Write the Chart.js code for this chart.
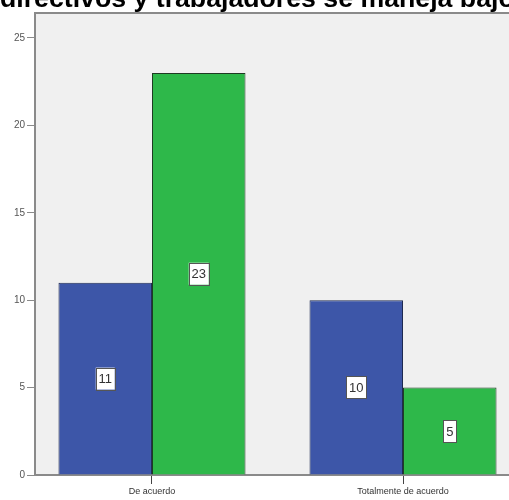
<!DOCTYPE html>
<html>
<head>
<meta charset="utf-8">
<script src="https://cdn.jsdelivr.net/npm/chart.js@4.4.1/dist/chart.umd.min.js"></script>
<style>
html,body{margin:0;padding:0;background:#fff;overflow:hidden;}
#wrap{position:absolute;left:0;top:0;width:530px;height:500px;}
</style>
</head>
<body>
<div id="wrap"><canvas id="c" width="530" height="500"></canvas></div>
<script>
const titleText = "directivos y trabajadores se maneja bajo";
const categories = ["De acuerdo", "Totalmente de acuerdo"];
const seriesA = [11, 10];
const seriesB = [23, 5];
const yTicks = [0, 5, 10, 15, 20, 25];
const colorA = "#3d56a8";
const colorB = "#2eb84a";

const bgPlugin = {
  id: "bg",
  beforeDraw(chart) {
    const {ctx, chartArea: a} = chart;
    ctx.save();
    ctx.fillStyle = "#f0f0f0";
    ctx.fillRect(a.left, a.top, a.right - a.left, a.bottom - a.top);
    ctx.strokeStyle = "#8a8a8a";
    ctx.lineWidth = 2;
    ctx.beginPath();
    ctx.moveTo(a.left - 1, a.top);
    ctx.lineTo(a.right, a.top);
    ctx.stroke();
    ctx.restore();
  },
  afterDraw(chart) {
    const ctx = chart.ctx;
    ctx.save();
    ctx.fillStyle = "#000";
    ctx.font = "bold 26.7px 'Liberation Sans', Arial, sans-serif";
    ctx.textBaseline = "alphabetic";
    ctx.textAlign = "left";
    ctx.fillText(titleText, 0, 7);
    ctx.restore();
  }
};

const labelPlugin = {
  id: "vlabels",
  afterDatasetsDraw(chart) {
    const ctx = chart.ctx;
    ctx.save();
    ctx.font = "13px 'Liberation Sans', Arial, sans-serif";
    ctx.textAlign = "center";
    ctx.textBaseline = "middle";
    chart.data.datasets.forEach((ds, di) => {
      const meta = chart.getDatasetMeta(di);
      meta.data.forEach((bar, i) => {
        const txt = String(ds.data[i].y);
        const cx = bar.x;
        const cy = (bar.y + bar.base) / 2;
        const tw = ctx.measureText(txt).width;
        const w = Math.round(tw + 6);
        const h = 22;
        ctx.fillStyle = "#ffffff";
        ctx.fillRect(cx - w / 2, cy - h / 2, w, h);
        ctx.strokeStyle = "#555";
        ctx.lineWidth = 1;
        ctx.strokeRect(Math.round(cx - w / 2) + 0.5, Math.round(cy - h / 2) + 0.5, w, h);
        ctx.fillStyle = "#333";
        ctx.fillText(txt, cx, cy + 1);
      });
    });
    ctx.restore();
  }
};

new Chart(document.getElementById("c"), {
  type: "bar",
  data: {
    datasets: [
      {
        data: categories.map((c, i) => ({x: i, y: seriesA[i]})),
        backgroundColor: colorA,
        borderColor: "#1e2a50",
        borderWidth: 1,
        categoryPercentage: 0.745,
        barPercentage: 1.0
      },
      {
        data: categories.map((c, i) => ({x: i, y: seriesB[i]})),
        backgroundColor: colorB,
        borderColor: "#1e3a22",
        borderWidth: 1,
        categoryPercentage: 0.745,
        barPercentage: 1.0
      }
    ]
  },
  options: {
    responsive: false,
    animation: false,
    devicePixelRatio: 1,
    layout: {padding: {left: 0, right: 10, top: 13, bottom: 0}},
    plugins: {legend: {display: false}, tooltip: {enabled: false}, title: {display: false}},
    scales: {
      x: {
        type: "linear",
        min: -0.466,
        max: 1.466,
        offset: false,
        afterBuildTicks(scale) { scale.ticks = categories.map((c, i) => ({value: i})); },
        afterFit(scale) { scale.height = 25; },
        ticks: {
          autoSkip: false,
          maxRotation: 0,
          padding: 2,
          color: "#333",
          font: {size: 9, family: "'Liberation Sans', Arial, sans-serif"},
          callback: (v) => categories[v]
        },
        grid: {display: true, offset: false, drawOnChartArea: false, drawTicks: true, tickLength: 9, color: "#444", lineWidth: 1},
        border: {display: true, color: "#8a8a8a", width: 2}
      },
      y: {
        min: 0,
        max: 26.43,
        afterBuildTicks(scale) { scale.ticks = yTicks.map(v => ({value: v})); },
        afterFit(scale) { scale.width = 35; },
        ticks: {
          padding: 2,
          color: "#555",
          font: {size: 10, family: "'Liberation Sans', Arial, sans-serif"}
        },
        grid: {display: true, offset: false, drawOnChartArea: false, drawTicks: true, tickLength: 8, color: "#8a8a8a", lineWidth: 1},
        border: {display: true, color: "#8a8a8a", width: 2}
      }
    }
  },
  plugins: [bgPlugin, labelPlugin]
});
</script>
</body>
</html>
